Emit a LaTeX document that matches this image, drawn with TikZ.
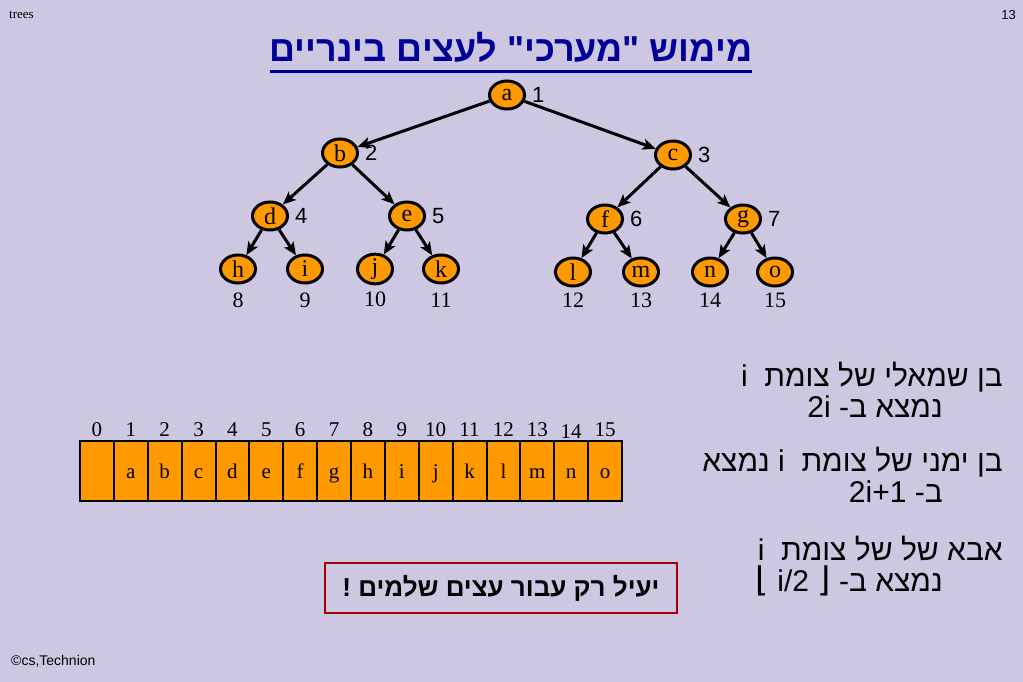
\documentclass[tikz,border=0pt]{standalone}
\usepackage{fontspec}
\setmainfont{Liberation Serif}
\setsansfont{Liberation Sans}
\newfontfamily\hebfont[Script=Hebrew]{Liberation Sans}
\newfontfamily\symfont{DejaVu Sans}
\TeXXeTstate=1
\usetikzlibrary{arrows.meta,positioning,shapes.geometric}
\definecolor{slidebg}{HTML}{CDC7E1}
\definecolor{nodeorange}{HTML}{FF9900}
\definecolor{titleblue}{HTML}{000099}
\definecolor{boxred}{HTML}{A00000}

\begin{document}
\begin{tikzpicture}[x=1pt,y=-1pt,
    vertex/.style={ellipse,draw=black,line width=3pt,fill=nodeorange,
      minimum width=35pt,minimum height=28pt,inner sep=0pt,
      font=\fontsize{24}{24}\selectfont},
    edge/.style={line width=3pt,-{Stealth[length=13pt,width=11pt,inset=3pt]}},
    idx/.style={inner sep=0pt,font=\sffamily\fontsize{22}{22}\selectfont},
    leafidx/.style={inner sep=0pt,font=\fontsize{22}{22}\selectfont},
    cell/.style={rectangle,draw=black,line width=2pt,fill=nodeorange,outer sep=0pt,
      minimum width=33.875pt,minimum height=60pt,inner sep=0pt,
      text height=14pt,text depth=0pt,
      font=\fontsize{21}{21}\selectfont},
    cellidx/.style={inner sep=0pt,font=\fontsize{21}{21}\selectfont},
    hebline/.style={inner sep=0pt,anchor=base east,font=\hebfont\fontsize{30}{30}\selectfont},
    warnbox/.style={draw=boxred,line width=2.5pt,minimum width=352pt,minimum height=50pt,
      font=\hebfont\bfseries\fontsize{26}{26}\selectfont},
  ]
  \useasboundingbox (0,0) rectangle (1023,682);
  \fill[slidebg] (0,0) rectangle (1023,682);

  % header, footer
  \node[anchor=west,inner sep=0pt,font=\fontsize{13}{13}\selectfont] (chap) at (9,15) {trees};
  \node[anchor=east,inner sep=0pt,font=\sffamily\fontsize{13}{13}\selectfont] (page) at (1016,15) {13};
  \node[anchor=west,inner sep=0pt,font=\sffamily\fontsize{14}{14}\selectfont] (foot) at (11,661) {©cs,Technion};

  % title
  \node[inner sep=0pt,text=titleblue,font=\hebfont\bfseries\fontsize{36}{36}\selectfont] (title) at (511,47)
    {\beginR מימוש "מערכי" לעצים בינריים\endR};
  \draw[titleblue,line width=3pt] ([yshift=-10pt]title.base west) -- ([yshift=-10pt]title.base east);

  % tree
  \node[vertex] (a) at (507,95) {a};
  \node[vertex] (b) at (340,153) {b};
  \node[vertex] (c) at (673,155) {c};
  \node[vertex] (d) at (270,216) {d};
  \node[vertex] (e) at (407,216) {e};
  \node[vertex] (f) at (605,219) {f};
  \node[vertex] (g) at (743,219) {g};
  \node[vertex] (h) at (238,269) {h};
  \node[vertex] (i) at (305,269) {i};
  \node[vertex] (j) at (375,269) {j};
  \node[vertex] (k) at (441,269) {k};
  \node[vertex] (l) at (573,272) {l};
  \node[vertex] (m) at (641,272) {m};
  \node[vertex] (n) at (710,272) {n};
  \node[vertex] (o) at (775,272) {o};

  \draw[edge] (a) -- (b);
  \draw[edge] (a) -- (c);
  \draw[edge] (b) -- (d);
  \draw[edge] (b) -- (e);
  \draw[edge] (c) -- (f);
  \draw[edge] (c) -- (g);
  \draw[edge] (d) -- (h);
  \draw[edge] (d) -- (i);
  \draw[edge] (e) -- (j);
  \draw[edge] (e) -- (k);
  \draw[edge] (f) -- (l);
  \draw[edge] (f) -- (m);
  \draw[edge] (g) -- (n);
  \draw[edge] (g) -- (o);

  % indices of the tree
  \node[idx,right=6pt of a] (ia) {1};
  \node[idx,right=6pt of b] (ib) {2};
  \node[idx,right=6pt of c] (ic) {3};
  \node[idx,right=6pt of d] (id) {4};
  \node[idx,right=6pt of e] (ie) {5};
  \node[idx,right=6pt of f] (if) {6};
  \node[idx,right=6pt of g] (ig) {7};
  \node[leafidx,below=8pt of h] (ih) {8};
  \node[leafidx,below=8pt of i] (ii) {9};
  \node[leafidx,below=6pt of j] (ij) {10};
  \node[leafidx,below=8pt of k] (ik) {11};
  \node[leafidx,below=5pt of l] (il) {12};
  \node[leafidx,below=5pt of m] (im) {13};
  \node[leafidx,below=5pt of n] (in) {14};
  \node[leafidx,below=5pt of o] (io) {15};

  % array
  \node[cell] (c0) at (96.94,471) {};
  \node[cell,right=0pt of c0] (c1) {a};
  \node[cell,right=0pt of c1] (c2) {b};
  \node[cell,right=0pt of c2] (c3) {c};
  \node[cell,right=0pt of c3] (c4) {d};
  \node[cell,right=0pt of c4] (c5) {e};
  \node[cell,right=0pt of c5] (c6) {f};
  \node[cell,right=0pt of c6] (c7) {g};
  \node[cell,right=0pt of c7] (c8) {h};
  \node[cell,right=0pt of c8] (c9) {i};
  \node[cell,right=0pt of c9] (c10) {j};
  \node[cell,right=0pt of c10] (c11) {k};
  \node[cell,right=0pt of c11] (c12) {l};
  \node[cell,right=0pt of c12] (c13) {m};
  \node[cell,right=0pt of c13] (c14) {n};
  \node[cell,right=0pt of c14] (c15) {o};
  \node[cellidx,above=4pt of c0] (k0) {0};
  \node[cellidx,above=4pt of c1] (k1) {1};
  \node[cellidx,above=4pt of c2] (k2) {2};
  \node[cellidx,above=4pt of c3] (k3) {3};
  \node[cellidx,above=4pt of c4] (k4) {4};
  \node[cellidx,above=4pt of c5] (k5) {5};
  \node[cellidx,above=4pt of c6] (k6) {6};
  \node[cellidx,above=4pt of c7] (k7) {7};
  \node[cellidx,above=4pt of c8] (k8) {8};
  \node[cellidx,above=4pt of c9] (k9) {9};
  \node[cellidx,above=4pt of c10] (k10) {10};
  \node[cellidx,above=4pt of c11] (k11) {11};
  \node[cellidx,above=4pt of c12] (k12) {12};
  \node[cellidx,above=4pt of c13] (k13) {13};
  \node[cellidx,above=2pt of c14] (k14) {14};
  \node[cellidx,above=4pt of c15] (k15) {15};

  % rules on the right
  \node[hebline] (left1) at (1003,386) {\beginR בן שמאלי של צומת \ i\endR};
  \node[hebline] (left2) at (943,417) {\beginR נמצא ב- \beginL 2i\endL\endR};
  \node[hebline] (right1) at (1003,471) {\beginR בן ימני של צומת \ i נמצא\endR};
  \node[hebline] (right2) at (943,502) {\beginR ב- \beginL 2i+1\endL\endR};
  \node[hebline] (up1) at (1003,560) {\beginR אבא של של צומת \ i\endR};
  \node[hebline] (up2) at (943,591) {\beginR נמצא ב- \beginL{\symfont\fontsize{34}{34}\selectfont ⌊} i/2 {\symfont\fontsize{34}{34}\selectfont ⌋}\endL\endR};

  % warning
  \node[warnbox] (warn) at (501,588) {\beginR יעיל רק עבור עצים שלמים !\endR};
\end{tikzpicture}
\end{document}
